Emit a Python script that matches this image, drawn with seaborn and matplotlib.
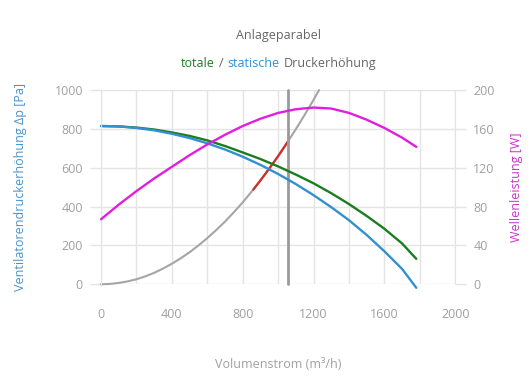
import numpy as np
import pandas as pd
import seaborn as sns
import matplotlib.pyplot as plt
from matplotlib.offsetbox import TextArea, HPacker, AnchoredOffsetbox

# flow rates (m3/h) at which the curves were read
flow = [0, 100, 200, 300, 400, 500, 600, 700, 800, 900, 1000,
        1100, 1200, 1300, 1400, 1500, 1600, 1700, 1780]
# total pressure increase (Pa)
p_total = [815, 813, 807, 797, 782, 764, 741, 712, 679, 645, 607,
           565, 520, 469, 413, 352, 286, 210, 131]
# static pressure increase (Pa)
p_static = [815, 813, 805, 793, 775, 753, 726, 694, 657, 615, 568,
            516, 459, 397, 330, 254, 170, 79, -18]
# shaft power (W), right axis
power = [67, 82, 96, 109, 121, 133, 144, 154, 163, 170.5, 176.5,
         180.3, 182, 181, 176.5, 169.5, 161, 151, 141.5]

# system curve (Anlageparabel)
sys_flow = [0, 50, 100, 150, 200, 250, 300, 350, 400, 450, 500, 550, 600,
            650, 700, 750, 800, 850, 900, 950, 1000, 1050, 1100, 1150, 1200, 1231]
sys_p = [0, 2, 7, 15, 26, 41, 59, 81, 106, 134, 165, 200, 238,
         279, 323, 371, 422, 477, 535, 596, 660, 728, 799, 873, 950, 1000]
# highlighted section of the system curve
red_flow = [860, 900, 950, 1000, 1055]
red_p = [488, 535, 596, 660, 735]
# operating point flow
op_flow = 1055

x_ticks = [0, 200, 400, 600, 800, 1000, 1200, 1400, 1600, 1800, 2000]
x_labels = ['0', '', '400', '', '800', '', '1200', '', '1600', '', '2000']
y_ticks = [0, 200, 400, 600, 800, 1000]
y2_ticks = [0, 40, 80, 120, 160, 200]

sns.set_style('white')
plt.rcParams['font.family'] = ['Open Sans', 'DejaVu Sans']

grid_c = '#e4e4e4'
tick_c = '#a0a0a0'
green = '#1a7d1f'
blue = '#3290d0'
magenta = '#e01ee0'

fig = plt.figure(figsize=(5.3, 3.9), dpi=100)
ax = fig.add_axes([0.1906, 0.271, 0.6684, 0.498])
ax2 = ax.twinx()

sns.lineplot(x=sys_flow, y=sys_p, ax=ax, color='#a5a5a5', lw=1.5)
sns.lineplot(x=red_flow, y=red_p, ax=ax, color='#d42a2a', lw=1.6)
ax.axvline(op_flow, color='#9a9a9a', lw=2)
sns.lineplot(x=flow, y=p_total, ax=ax, color=green, lw=1.7)
sns.lineplot(x=flow, y=p_static, ax=ax, color=blue, lw=1.7)
sns.lineplot(x=flow, y=power, ax=ax2, color=magenta, lw=1.7)
for l in ax.lines + ax2.lines:
    l.set_clip_on(False)

ax.set_xlim(0, 2000)
ax.set_ylim(0, 1000)
ax2.set_ylim(0, 200)
ax.set_xticks(x_ticks)
ax.set_xticklabels(x_labels)
ax.set_yticks(y_ticks)
ax2.set_yticks(y2_ticks)

ax.grid(True, color=grid_c, lw=1)
ax2.grid(False)
for a in (ax, ax2):
    for s in a.spines.values():
        s.set_visible(False)
ax.spines['left'].set_visible(True)
ax.spines['left'].set_color(grid_c)
ax2.spines['right'].set_visible(True)
ax2.spines['right'].set_color(grid_c)

ax.tick_params(axis='both', colors=grid_c, labelcolor=tick_c, length=8, width=1,
               labelsize=9, pad=5)
ax.tick_params(axis='x', pad=9)
ax2.tick_params(axis='y', colors=grid_c, labelcolor=tick_c, length=8, width=1,
                labelsize=9, pad=5)

ax.set_ylabel('Ventilatorendruckerhöhung Δp [Pa]', color='#4a93c8', fontsize=9, labelpad=20)
ax2.set_ylabel('Wellenleistung [W]', color='#cc33cc', fontsize=9, labelpad=11)
ax.set_xlabel('Volumenstrom (m³/h)', color=tick_c, fontsize=9, labelpad=27)

fig.text(0.525, 0.91, 'Anlageparabel', ha='center', va='center', color='#666666', fontsize=9)

parts = [('totale', green), ('/', '#666666'), ('statische', blue), ('Druckerhöhung', '#666666')]
boxes = [TextArea(t, textprops=dict(color=c, fontsize=9)) for t, c in parts]
pack = HPacker(children=boxes, align='baseline', pad=0, sep=3)
anch = AnchoredOffsetbox(loc='center', child=pack, frameon=False,
                         bbox_to_anchor=(0.525, 0.838), bbox_transform=fig.transFigure)
fig.add_artist(anch)

fig.savefig('out.png', dpi=100)
